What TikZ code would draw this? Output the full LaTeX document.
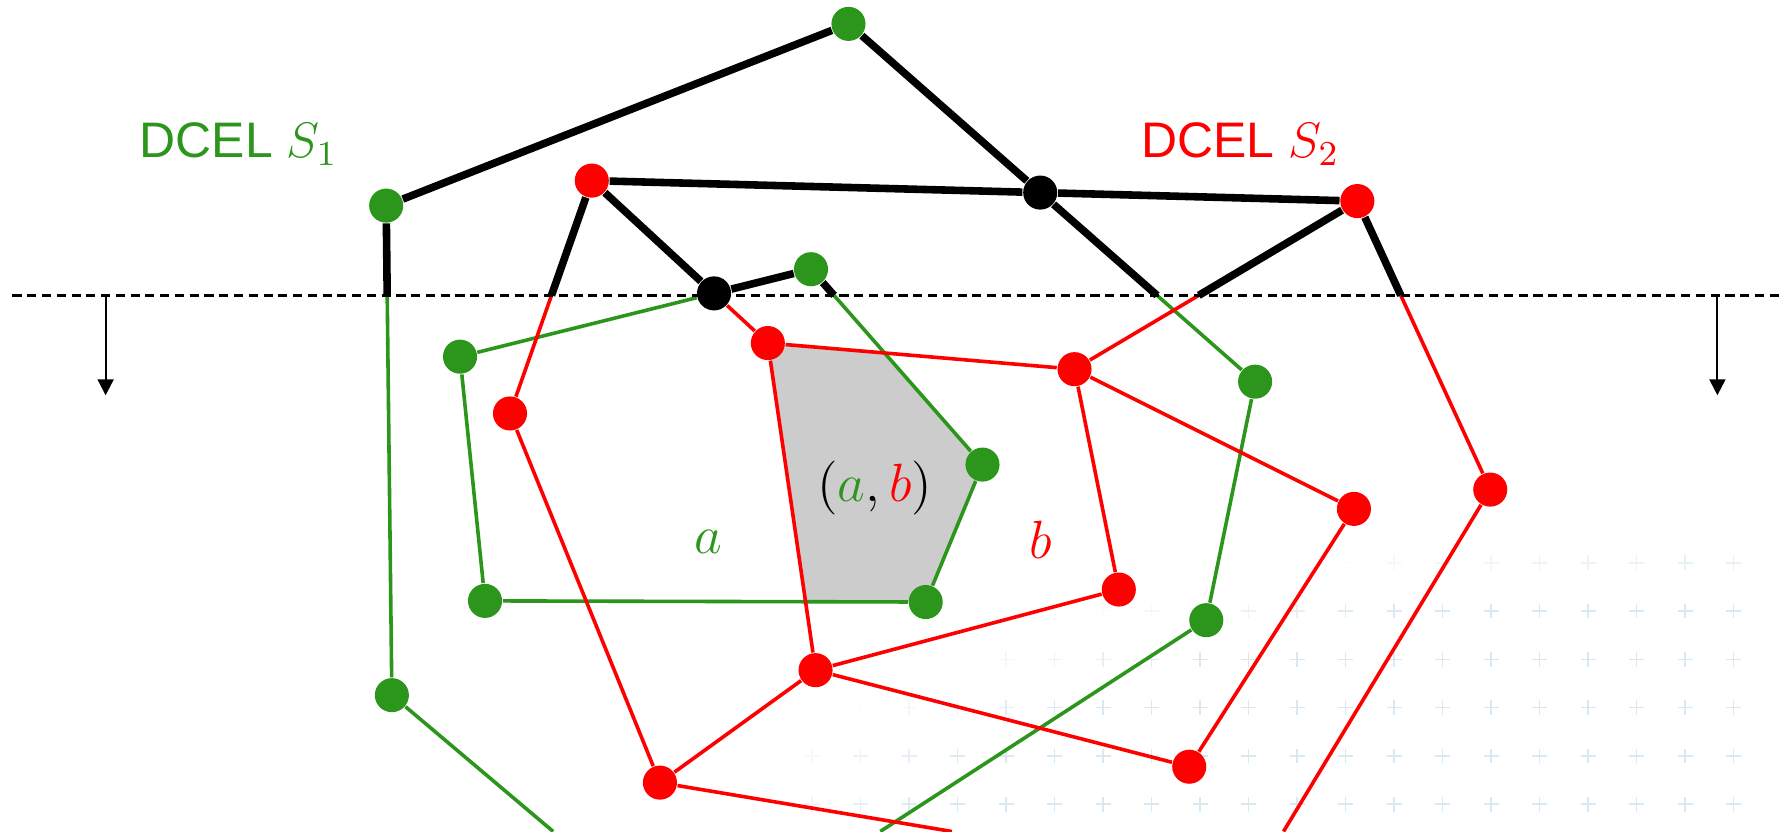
\RequirePackage{fix-cm}
\documentclass[tikz,border=0pt]{standalone}
\usepackage{fontspec}
\newfontfamily\dcelfont{Liberation Sans}
\usepackage{tikz}
\usetikzlibrary{arrows.meta, backgrounds}
\definecolor{sonegreen}{RGB}{44,150,28}
\definecolor{stwored}{RGB}{255,0,0}
\definecolor{facegray}{RGB}{204,204,204}
\definecolor{gridblue}{RGB}{150,190,215}

\begin{document}
\begin{tikzpicture}[
    every node/.style={font=\fontsize{13.5}{16}\selectfont},
    vtx/.style={circle, inner sep=0pt, minimum size=0.30cm},
    gvtx/.style={vtx, fill=sonegreen},
    rvtx/.style={vtx, fill=stwored},
    bvtx/.style={vtx, fill=black},
    gedge/.style={sonegreen, line width=0.9pt},
    redge/.style={stwored, line width=0.9pt},
    bedge/.style={black, line width=1.9pt},
    sweepline/.style={black, line width=0.6pt, dash pattern=on 0.08cm off 0.05cm},
    movearrow/.style={-{Triangle[width=0.14cm, length=0.14cm]}, line width=0.5pt},
    dcel/.style={font=\dcelfont\fontsize{12.5}{15}\selectfont}
]
\useasboundingbox (0,0) rectangle (15.68,-7.32);

% --- DCEL S1 vertices ---
\node[gvtx] (g1)  at (7.47,-0.21) {};
\node[gvtx] (g2)  at (3.40,-1.81) {};
\node[gvtx] (g3)  at (7.14,-2.37) {};
\node[gvtx] (g4)  at (4.05,-3.14) {};
\node[gvtx] (g5)  at (11.05,-3.36) {};
\node[gvtx] (g6)  at (8.65,-4.09) {};
\node[gvtx] (g7)  at (4.27,-5.29) {};
\node[gvtx] (g8)  at (8.15,-5.30) {};
\node[gvtx] (g9)  at (10.62,-5.46) {};
\node[gvtx] (g10) at (3.45,-6.12) {};

% --- DCEL S2 vertices ---
\node[rvtx] (r1)  at (5.21,-1.59) {};
\node[rvtx] (r2)  at (11.95,-1.77) {};
\node[rvtx] (r3)  at (6.76,-3.02) {};
\node[rvtx] (r4)  at (9.46,-3.25) {};
\node[rvtx] (r5)  at (4.49,-3.64) {};
\node[rvtx] (r6)  at (13.12,-4.31) {};
\node[rvtx] (r7)  at (11.92,-4.48) {};
\node[rvtx] (r8)  at (9.85,-5.19) {};
\node[rvtx] (r9)  at (7.18,-5.90) {};
\node[rvtx] (r10) at (10.47,-6.75) {};
\node[rvtx] (r11) at (5.81,-6.89) {};

% --- intersection vertices ---
\node[bvtx] (b1) at (intersection of g1--g5 and r1--r2) {};
\node[bvtx] (b2) at (intersection of r1--r3 and g4--g3) {};

% --- sweep line and crossings ---
\coordinate (swl) at (0.11,-2.60);
\coordinate (swr) at (15.68,-2.60);
\coordinate (xg1) at (intersection of g1--g5 and swl--swr);
\coordinate (xg2) at (intersection of g2--g10 and swl--swr);
\coordinate (xg3) at (intersection of g3--g6 and swl--swr);
\coordinate (xr1) at (intersection of r1--r5 and swl--swr);
\coordinate (xr2a) at (intersection of r2--r4 and swl--swr);
\coordinate (xr2b) at (intersection of r2--r6 and swl--swr);
\coordinate (arl0) at (0.93,-2.60);
\coordinate (arl1) at (0.93,-3.48);
\coordinate (arr0) at (15.12,-2.60);
\coordinate (arr1) at (15.12,-3.48);

% --- edges leaving the picture ---
\coordinate (g10o) at (4.87,-7.32);
\coordinate (g9o)  at (7.75,-7.32);
\coordinate (r6o)  at (11.30,-7.32);
\coordinate (r11o) at (8.38,-7.32);

% --- face corners ---
\coordinate (fne) at (intersection of r3--r4 and g3--g6);
\coordinate (fsw) at (intersection of g8--g7 and r3--r9);

% --- labels ---
\node[dcel, text=sonegreen] (lbls1) at (2.10,-1.27) {DCEL $S_1$};
\node[dcel, text=stwored]   (lbls2) at (10.92,-1.27) {DCEL $S_2$};
\node (lblab) at (7.70,-4.30) {$(\textcolor{sonegreen}{a},\textcolor{stwored}{b})$};
\node[text=sonegreen] (lbla) at (6.24,-4.77) {$a$};
\node[text=stwored]   (lblb) at (9.16,-4.75) {$b$};

\begin{scope}[on background layer]
% faint backdrop crosses
\foreach \i in {0,...,19}{
  \foreach \j in {0,...,6}{
    \pgfmathsetmacro\gx{7.15+0.427*\i}
    \pgfmathsetmacro\gy{4.53+0.425*\j}
    \pgfmathsetmacro\gop{max(0,min(0.35,(9.6-veclen(15.8-\gx,3.2*(7.6-\gy)))/5))}
    \draw[gridblue, line width=0.4pt, opacity=\gop]
      (\gx-0.065,-\gy) -- ++(0.13,0) (\gx,-\gy-0.065) -- ++(0,0.13);
  }
}
% overlay face (a,b)
\fill[facegray] (r3.center) -- (fne) -- (g6.center) -- (g8.center) -- (fsw) -- cycle;

% S1 edges below the sweep line
\draw[gedge] (xg1) -- (g5) -- (g9) -- (g9o);
\draw[gedge] (xg2) -- (g10) -- (g10o);
\draw[gedge] (b2) -- (g4);
\draw[gedge] (xg3) -- (g6) -- (g8) -- (g7) -- (g4);

% S2 edges below the sweep line
\draw[redge] (xr1) -- (r5) -- (r11) -- (r11o);
\draw[redge] (b2) -- (r3);
\draw[redge] (r3) -- (r4);
\draw[redge] (r3) -- (r9);
\draw[redge] (xr2a) -- (r4);
\draw[redge] (xr2b) -- (r6) -- (r6o);
\draw[redge] (r4) -- (r7) -- (r10);
\draw[redge] (r4) -- (r8) -- (r9);
\draw[redge] (r9) -- (r11);
\draw[redge] (r9) -- (r10);

% sweep line
\draw[sweepline] (swl) -- (swr);
\draw[movearrow] (arl0) -- (arl1);
\draw[movearrow] (arr0) -- (arr1);

% processed part above the sweep line
\draw[bedge] (g2) -- (g1);
\draw[bedge] (g1) -- (b1) -- (xg1);
\draw[bedge] (r1) -- (b1) -- (r2);
\draw[bedge] (g2) -- (xg2);
\draw[bedge] (r1) -- (xr1);
\draw[bedge] (r1) -- (b2) -- (g3);
\draw[bedge] (g3) -- (xg3);
\draw[bedge] (r2) -- (xr2a);
\draw[bedge] (r2) -- (xr2b);
\end{scope}
\end{tikzpicture}
\end{document}
